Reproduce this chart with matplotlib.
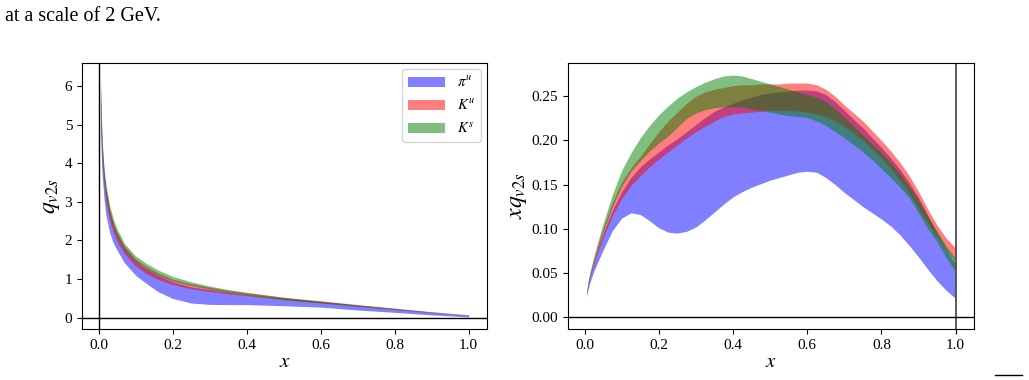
import numpy as np
import matplotlib
matplotlib.use("Agg")
import matplotlib.pyplot as plt
from matplotlib.lines import Line2D

plt.rcParams['font.family'] = ['Liberation Serif', 'DejaVu Serif']
plt.rcParams['mathtext.fontset'] = 'stix'

# left panel: q_v(x)
x_l = [0.005, 0.0075, 0.01, 0.015, 0.02, 0.03, 0.04, 0.05, 0.07, 0.1, 0.13, 0.16,
       0.2, 0.25, 0.3, 0.35, 0.4, 0.5, 0.6, 0.7, 0.8, 0.9, 1.0]
pi_lo_l = [4.9, 4.15, 3.65, 3.05, 2.65, 2.2, 1.93, 1.75, 1.42, 1.1, 0.88, 0.68,
           0.5, 0.38, 0.345, 0.34, 0.34, 0.31, 0.275, 0.2, 0.14, 0.074, 0.021]
pi_hi_l = [6.28, 5.2, 4.5, 3.75, 3.3, 2.75, 2.4, 2.15, 1.8, 1.46, 1.26, 1.1,
           0.93, 0.8, 0.727, 0.66, 0.605, 0.506, 0.427, 0.334, 0.24, 0.15, 0.06]
ku_lo_l = [5.2, 4.45, 3.95, 3.38, 3.0, 2.52, 2.2, 1.98, 1.65, 1.34, 1.14, 0.99,
           0.86, 0.75, 0.68, 0.62, 0.57, 0.468, 0.387, 0.307, 0.225, 0.139, 0.063]
ku_hi_l = [5.77, 4.95, 4.35, 3.72, 3.33, 2.8, 2.45, 2.22, 1.85, 1.52, 1.32, 1.16,
           1.0, 0.88, 0.79, 0.71, 0.645, 0.53, 0.44, 0.34, 0.25, 0.156, 0.078]
ks_lo_l = [5.5, 4.7, 4.15, 3.55, 3.15, 2.65, 2.33, 2.1, 1.76, 1.45, 1.26, 1.1,
           0.95, 0.83, 0.74, 0.66, 0.6, 0.47, 0.38, 0.29, 0.21, 0.131, 0.051]
ks_hi_l = [6.07, 5.1, 4.5, 3.85, 3.45, 2.9, 2.55, 2.3, 1.92, 1.6, 1.4, 1.24,
           1.07, 0.93, 0.82, 0.73, 0.66, 0.53, 0.42, 0.32, 0.233, 0.14, 0.066]

# right panel: x q_v(x)
x_r = [0.005, 0.01, 0.015, 0.025, 0.0375, 0.05, 0.075, 0.1, 0.125, 0.15, 0.175, 0.2,
       0.225, 0.25, 0.275, 0.3, 0.325, 0.35, 0.375, 0.4, 0.425, 0.45, 0.475, 0.5,
       0.525, 0.55, 0.575, 0.6, 0.625, 0.65, 0.675, 0.7, 0.725, 0.75, 0.775, 0.8,
       0.825, 0.85, 0.875, 0.9, 0.925, 0.95, 0.975, 1.0]
pi_lo_r = [0.024, 0.032, 0.04, 0.052, 0.064, 0.076, 0.098, 0.112, 0.118, 0.116, 0.109, 0.101,
           0.096, 0.095, 0.097, 0.102, 0.11, 0.119, 0.128, 0.136, 0.142, 0.147, 0.151, 0.155,
           0.158, 0.161, 0.164, 0.165, 0.164, 0.158, 0.15, 0.141, 0.133, 0.125, 0.118, 0.111,
           0.103, 0.093, 0.081, 0.068, 0.054, 0.041, 0.03, 0.021]
pi_hi_r = [0.027, 0.04, 0.049, 0.063, 0.08, 0.095, 0.121, 0.142, 0.158, 0.17, 0.179, 0.187,
           0.195, 0.202, 0.21, 0.218, 0.226, 0.233, 0.238, 0.242, 0.246, 0.249, 0.252, 0.254,
           0.255, 0.256, 0.257, 0.257, 0.256, 0.252, 0.244, 0.234, 0.224, 0.214, 0.203, 0.192,
           0.18, 0.167, 0.152, 0.135, 0.115, 0.095, 0.077, 0.06]
ku_lo_r = [0.025, 0.037, 0.046, 0.06, 0.076, 0.09, 0.115, 0.134, 0.149, 0.16, 0.17, 0.179,
           0.187, 0.195, 0.203, 0.21, 0.216, 0.222, 0.227, 0.23, 0.231, 0.232, 0.233, 0.234,
           0.234, 0.234, 0.233, 0.232, 0.23, 0.227, 0.222, 0.216, 0.208, 0.2, 0.19, 0.18,
           0.168, 0.155, 0.14, 0.123, 0.106, 0.091, 0.076, 0.063]
ku_hi_r = [0.027, 0.041, 0.05, 0.066, 0.084, 0.101, 0.13, 0.153, 0.169, 0.182, 0.196, 0.21,
           0.222, 0.232, 0.242, 0.25, 0.255, 0.258, 0.26, 0.262, 0.263, 0.263, 0.264, 0.264,
           0.264, 0.265, 0.265, 0.265, 0.263, 0.258, 0.25, 0.24, 0.231, 0.222, 0.211, 0.2,
           0.188, 0.175, 0.16, 0.142, 0.122, 0.104, 0.089, 0.078]
ks_lo_r = [0.026, 0.039, 0.048, 0.064, 0.081, 0.097, 0.125, 0.148, 0.165, 0.177, 0.188, 0.197,
           0.205, 0.215, 0.225, 0.231, 0.235, 0.237, 0.238, 0.238, 0.238, 0.236, 0.234, 0.232,
           0.23, 0.228, 0.227, 0.226, 0.222, 0.217, 0.21, 0.203, 0.195, 0.187, 0.178, 0.168,
           0.158, 0.147, 0.135, 0.118, 0.1, 0.085, 0.067, 0.051]
ks_hi_r = [0.028, 0.042, 0.052, 0.069, 0.088, 0.106, 0.139, 0.166, 0.186, 0.203, 0.217, 0.229,
           0.239, 0.248, 0.255, 0.261, 0.266, 0.27, 0.273, 0.274, 0.273, 0.27, 0.267, 0.264,
           0.261, 0.258, 0.255, 0.252, 0.249, 0.244, 0.236, 0.226, 0.216, 0.206, 0.196, 0.186,
           0.175, 0.162, 0.148, 0.132, 0.114, 0.097, 0.08, 0.066]

labels = [r'$\pi^u$', r'$K^u$', r'$K^s$']
colors = ['b', 'r', 'g']

fig = plt.figure(figsize=(10.29, 3.8), dpi=100)
ax1 = fig.add_axes([0.0797, 0.1342, 0.3936, 0.70])
ax2 = fig.add_axes([0.552, 0.1342, 0.3946, 0.70])

bands_l = [(pi_lo_l, pi_hi_l), (ku_lo_l, ku_hi_l), (ks_lo_l, ks_hi_l)]
bands_r = [(pi_lo_r, pi_hi_r), (ku_lo_r, ku_hi_r), (ks_lo_r, ks_hi_r)]

for (lo, hi), c, lab in zip(bands_l, colors, labels):
    ax1.fill_between(x_l, lo, hi, color=c, alpha=0.5, lw=0, label=lab)
ax1.axvline(0, color='k', lw=1)
ax1.axhline(0, color='k', lw=1)
ax1.set_xlabel(r'$x$', fontsize=15, labelpad=1)
ax1.set_ylabel(r'$q_{v2s}$', fontsize=17, labelpad=2)
ax1.legend(loc='upper right', fontsize=10.5, handlelength=2.6, labelspacing=0.55,
           borderaxespad=0.4)

for (lo, hi), c, lab in zip(bands_r, colors, labels):
    ax2.fill_between(x_r, lo, hi, color=c, alpha=0.5, lw=0, label=lab)
ax2.axvline(1, color='0.3', lw=1.3)
ax2.axhline(0, color='k', lw=1)
ax2.set_xlabel(r'$x$', fontsize=15, labelpad=1)
ax2.set_ylabel(r'$xq_{v2s}$', fontsize=17, labelpad=2)

for ax in (ax1, ax2):
    ax.tick_params(labelsize=11)

# caption fragment from the page
fig.text(0.005, 0.945, 'at a scale of 2 GeV.', fontsize=14.5)
fig.add_artist(Line2D([0.967, 0.993], [0.012, 0.012], color='k', lw=1))

fig.savefig('out.png', dpi=100)
